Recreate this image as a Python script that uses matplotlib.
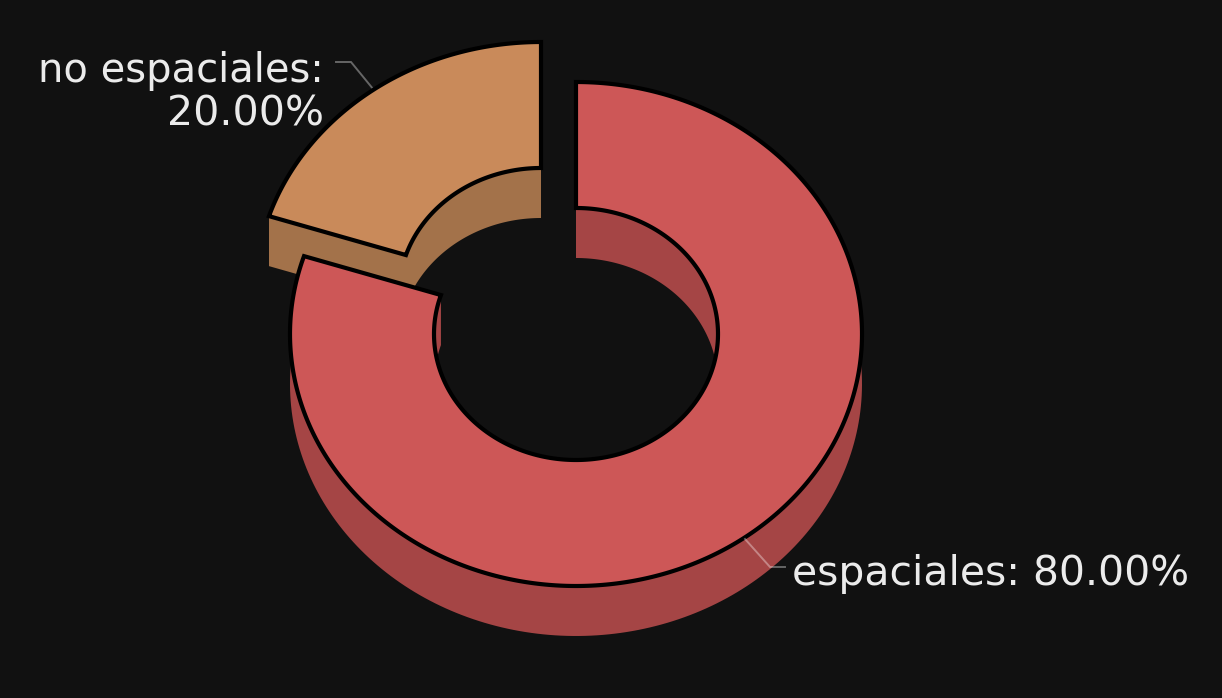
import numpy as np
import matplotlib
matplotlib.use("Agg")
import matplotlib.pyplot as plt
from matplotlib.patches import Polygon

labels = ["espaciales", "no espaciales"]
values = [80, 20]
top_colors = ["#CD5757", "#C98A5A"]
wall_colors = ["#A54545", "#A3724A"]
bg = "#111111"

W, H = 1222, 698
fig = plt.figure(figsize=(W / 100, H / 100), dpi=100, facecolor=bg)
ax = fig.add_axes([0, 0, 1, 1])
ax.set_xlim(0, W)
ax.set_ylim(H, 0)
ax.axis("off")

CX, CY = 576.0, 334.0
RX, RY = 286.0, 252.0
IX, IY = 142.0, 126.0
DEPTH = 50.0
OFFSET = (-35.0, -40.0)
LW = 3.0


def arc(rx, ry, a0, a1, dx=0.0, dy=0.0, n=160):
    t = np.radians(np.linspace(a0, a1, n))
    return np.column_stack((CX + dx + rx * np.sin(t), CY + dy - ry * np.cos(t)))


def fill(points, color, z, edge=None):
    ax.add_patch(Polygon(points, closed=True, facecolor=color,
                         edgecolor=edge if edge else "none",
                         linewidth=LW if edge else 0, joinstyle="miter", zorder=z))


def cross(ry):
    return np.degrees(np.arccos(DEPTH / 2 / ry))


total = sum(values)
sweep = [360 * v / total for v in values]

# Slice 2: clockwise from sweep[0] to 360, pulled out of the ring
a0, a1 = sweep[0], sweep[0] + sweep[1]
ox, oy = OFFSET
p_out = arc(RX, RY, a0, a0, ox, oy, 1)
fill(np.vstack((p_out, arc(IX, IY, a0, a1, ox, oy), arc(IX, IY, a1, a0, ox, oy + DEPTH), p_out + (0, DEPTH))),
     wall_colors[1], 1)
fill(np.vstack((arc(RX, RY, a0, a1, ox, oy), arc(IX, IY, a1, a0, ox, oy))), top_colors[1], 2, "black")

# Slice 1: clockwise from the top
end = sweep[0]
co, ci = cross(RY), cross(IY)
fill(np.vstack((arc(RX, RY, 180 - co, 180 + co), arc(RX, RY, 360 - co, co, 0, DEPTH))), wall_colors[0], 3)
fill(np.vstack((arc(IX, IY, 0, 180 - ci), arc(IX, IY, ci, 0, 0, DEPTH))), wall_colors[0], 3)
fill(np.vstack((arc(IX, IY, 180 + ci, end), arc(IX, IY, end, 360 - ci, 0, DEPTH))), wall_colors[0], 3)
fill(np.vstack((arc(RX, RY, 0, end, n=400), arc(IX, IY, end, 0, n=400))), top_colors[0], 4, "black")

# Leader lines
ax.plot([336, 351, 378], [62, 62, 95], color="#666666", lw=1.4, zorder=1.5, solid_joinstyle="miter")
ax.plot([745, 770, 785], [539, 567, 567], color="#ffffff", alpha=0.35, lw=1.4, zorder=5, solid_joinstyle="miter")

# Labels
txt = dict(color="#EBEBEB", family="DejaVu Sans", zorder=6)
ax.text(324, 82, f"{labels[1]}:", ha="right", va="baseline", fontsize=28.8, **txt)
ax.text(324, 125, f"{values[1]:.2f}%", ha="right", va="baseline", fontsize=29.6, **txt)
ax.text(792, 585, f"{labels[0]}: {values[0]:.2f}%", ha="left", va="baseline", fontsize=29.4, **txt)

fig.savefig("out.png", dpi=100, facecolor=bg)
